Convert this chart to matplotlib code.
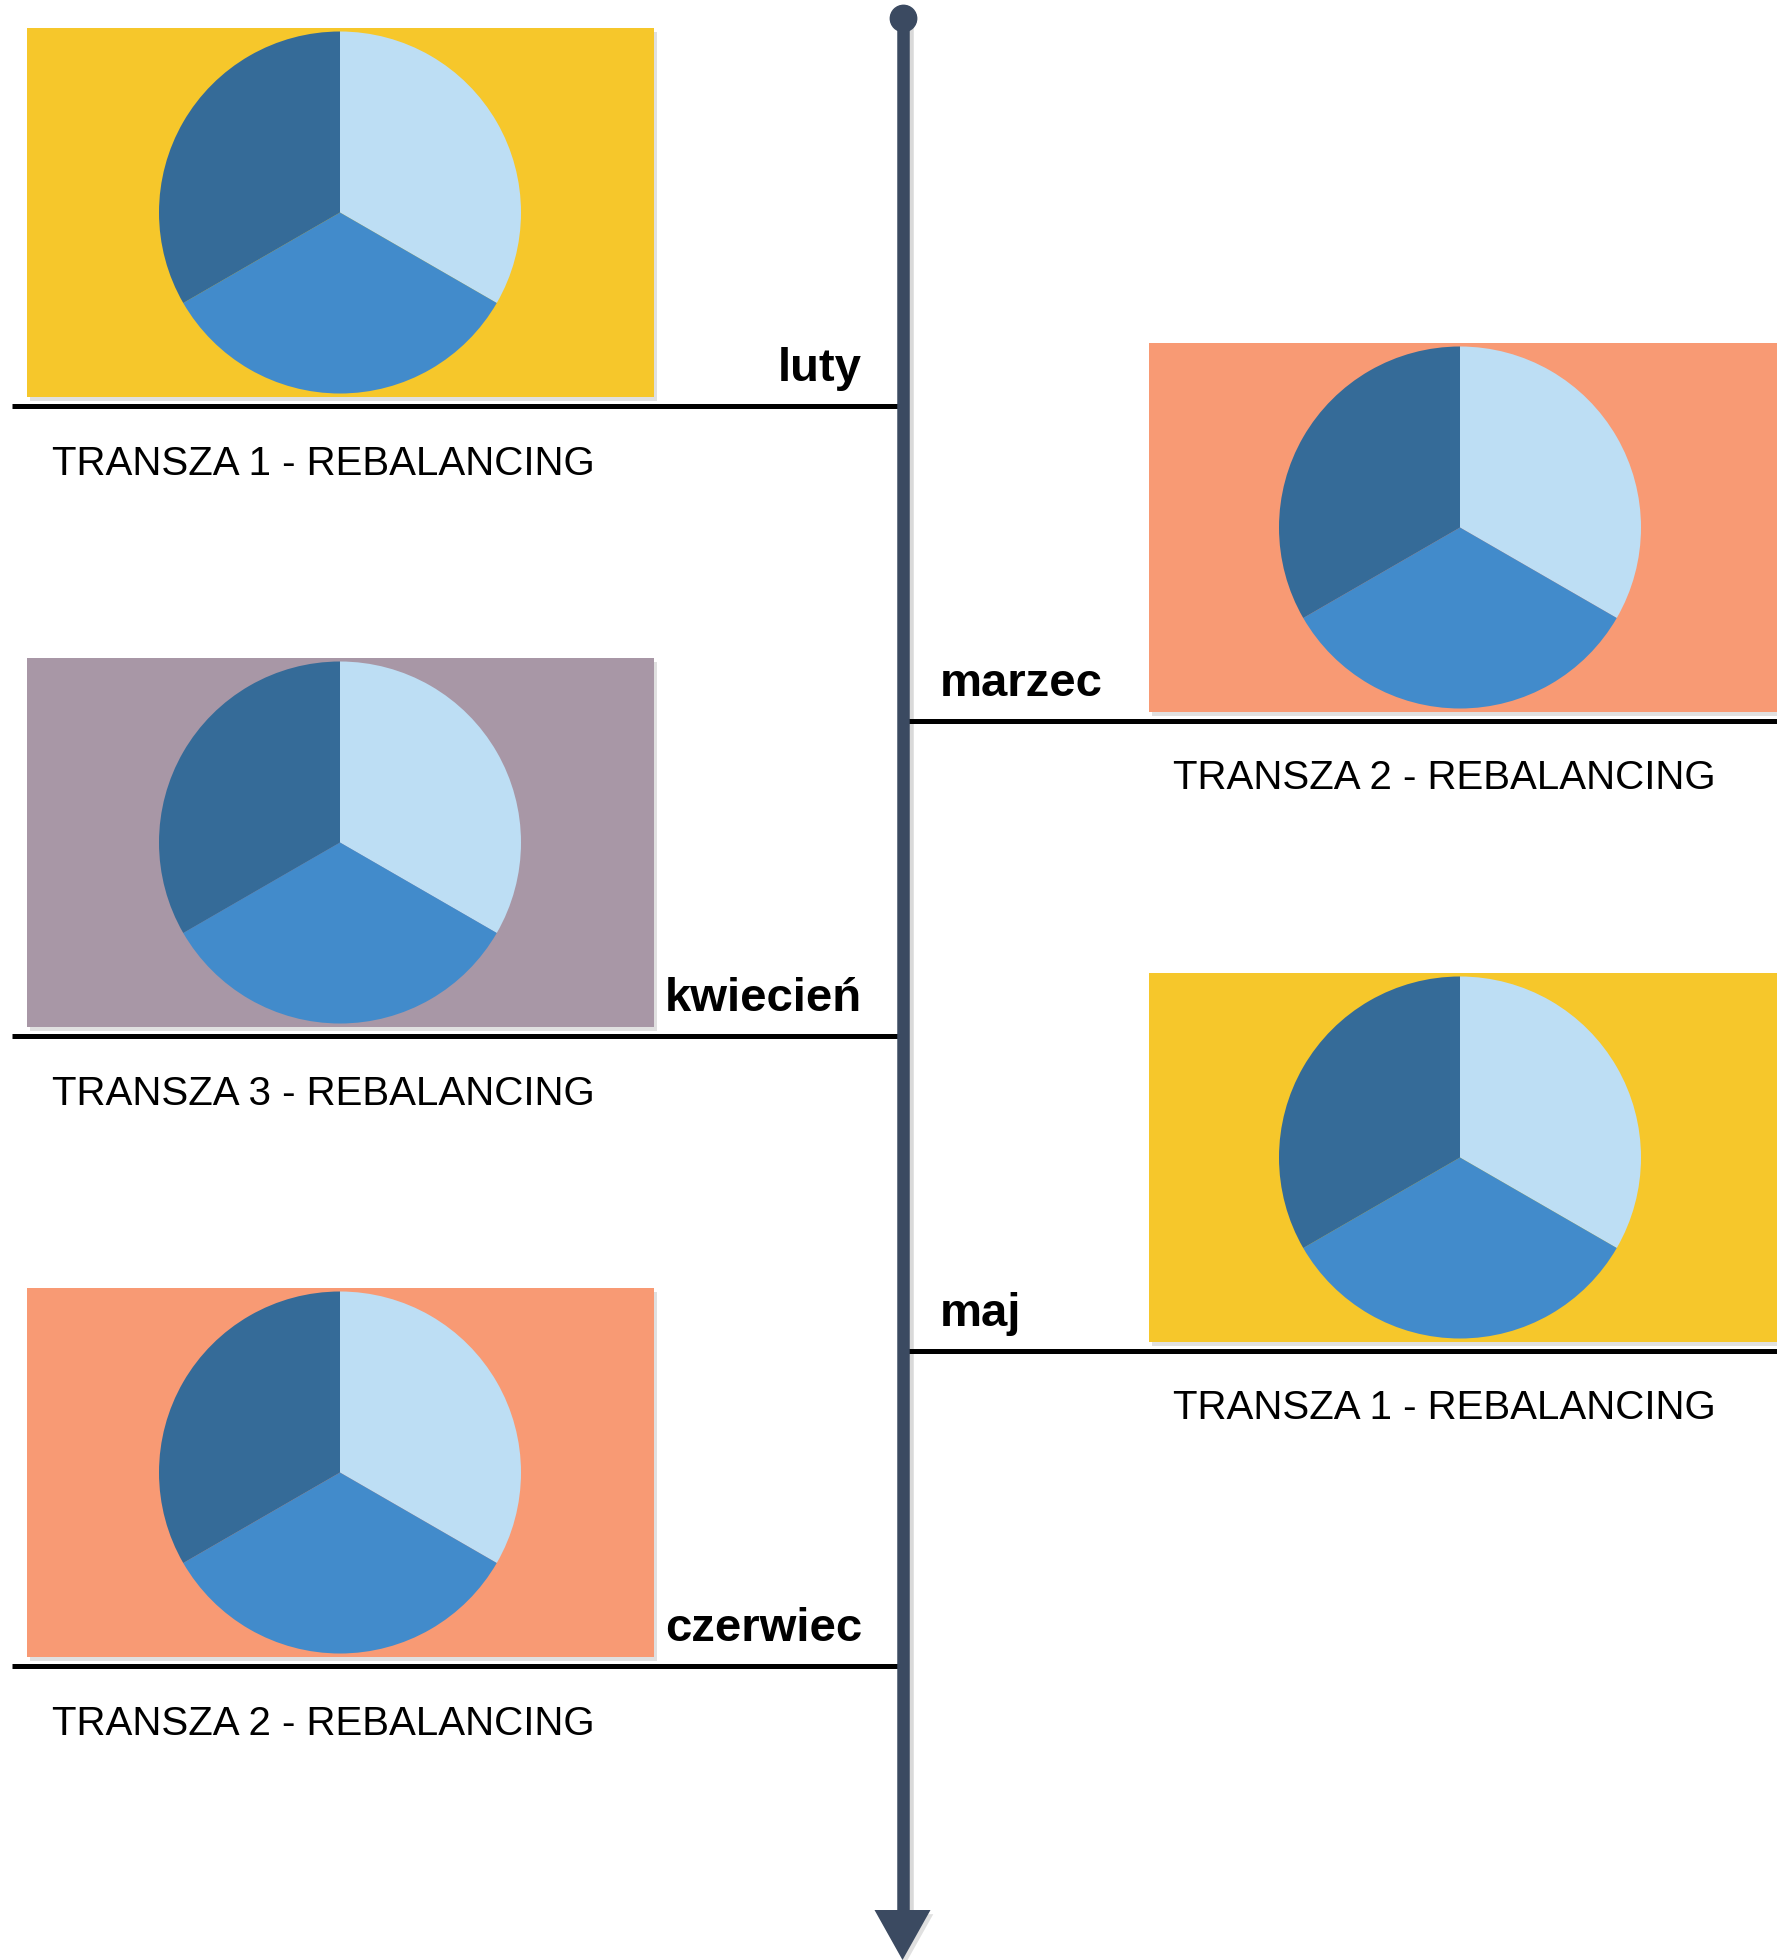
# -*- coding: utf-8 -*-
"""
Timeline of monthly rebalancing of tranches, one pie per month.
"""

import matplotlib
matplotlib.use('Agg')
from matplotlib import pyplot as plt
from matplotlib import patches, patheffects

# Data
# --------------------------------------------------------------------------
months = ['luty', 'marzec', 'kwiecień', 'maj', 'czerwiec']
tranches = ['TRANSZA 1 - REBALANCING', 'TRANSZA 2 - REBALANCING',
            'TRANSZA 3 - REBALANCING', 'TRANSZA 1 - REBALANCING',
            'TRANSZA 2 - REBALANCING']
shares = [1/3., 1/3., 1/3.]
# --------------------------------------------------------------------------

# Style
# --------------------------------------------------------------------------
W, H = 1777, 1960  # pixels
panel_colors = ['#F6C72B', '#F89A74', '#A897A6', '#F6C72B', '#F89A74']
pie_colors = ['#BDDEF4', '#428BCB', '#356B98']
axis_color = '#3B4A61'
plt.rcParams['font.family'] = ['Liberation Sans', 'DejaVu Sans']
x_axis = 902.5
first_line = 406.
step = 315.
# --------------------------------------------------------------------------

fig = plt.figure(figsize=(W/100., H/100.), dpi=100)
ax = fig.add_axes([0, 0, 1, 1])


def Y(y):
    # convert a top-down pixel position into the axes' upward coordinate
    return H - y


shadow = [patheffects.SimplePatchShadow(offset=(2, -3), shadow_rgbFace='k', alpha=0.12),
          patheffects.Normal()]

for i, month in enumerate(months):
    left = (i % 2 == 0)
    line_y = first_line + i*step
    if left:
        x0, x1 = 27., 654.
        line_x = (12., 898.)
    else:
        x0, x1 = 1149., 1777.
        line_x = (906., 1777.)
    # coloured panel
    rect = patches.Rectangle((x0, Y(line_y - 9.)), x1 - x0, 369.,
                             facecolor=panel_colors[i], edgecolor='none', zorder=1)
    rect.set_path_effects(shadow)
    ax.add_patch(rect)
    # pie
    cx = 340. if left else 1460.
    ax.pie(shares, colors=pie_colors, startangle=90, counterclock=False,
           center=(cx, Y(line_y - 193.5)), radius=181., frame=True,
           wedgeprops=dict(linewidth=0, zorder=2))
    # baseline under the panel
    ax.plot(line_x, [Y(line_y), Y(line_y)], color='black', lw=3.6,
            solid_capstyle='butt', zorder=3)
    # month name and tranche caption
    if left:
        ax.text(862., Y(line_y - 25.), month, ha='right', va='baseline',
                fontsize=34, fontweight='bold', color='black', zorder=4)
        ax.text(52., Y(line_y + 58.), tranches[i], ha='left', va='center',
                fontsize=29, color='black', zorder=4)
    else:
        ax.text(940., Y(line_y - 25.), month, ha='left', va='baseline',
                fontsize=34, fontweight='bold', color='black', zorder=4)
        ax.text(1173., Y(line_y + 57.), tranches[i], ha='left', va='center',
                fontsize=29, color='black', zorder=4)

# Timeline
# --------------------------------------------------------------------------
line_shadow = [patheffects.SimpleLineShadow(offset=(3, -2), shadow_color='k', alpha=0.15),
               patheffects.Normal()]
ax.plot([x_axis, x_axis], [Y(18.), Y(1912.)], color=axis_color, lw=9,
        solid_capstyle='butt', zorder=5, path_effects=line_shadow)
ax.plot([x_axis], [Y(18.)], marker='o', markersize=19, color=axis_color, zorder=6)
head = patches.Polygon([(x_axis - 28., Y(1910.)), (x_axis + 28., Y(1910.)), (x_axis, Y(1960.))],
                       closed=True, facecolor=axis_color, edgecolor='none', zorder=6)
head.set_path_effects(shadow)
ax.add_patch(head)

ax.set_xlim(0, W)
ax.set_ylim(0, H)
ax.set_aspect('auto')
ax.axis('off')
fig.savefig('out.png', dpi=100, facecolor='white')
